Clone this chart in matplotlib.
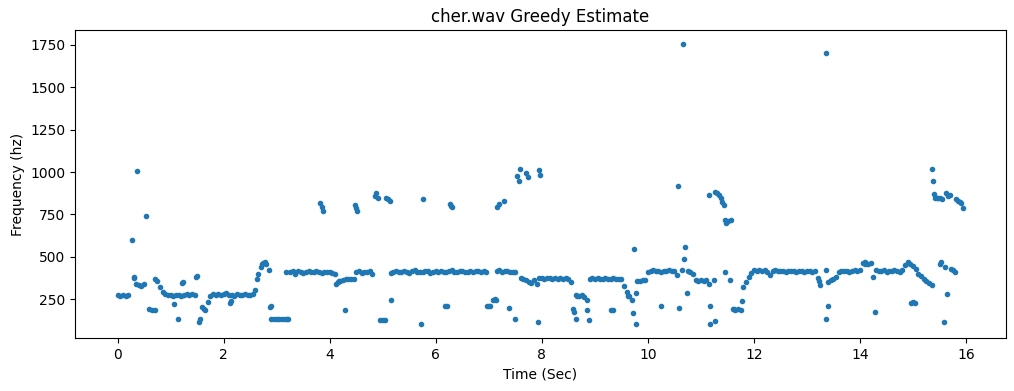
import numpy as np
import matplotlib
matplotlib.use('Agg')
from matplotlib import pyplot as plt

# pitch track, one value per frame (nan = no estimate on the main contour)
hop = 0.05
nan = np.nan
pitch = [
    274, 270, 276, 268, 274, nan, 380, 340, 332, 328, 340, nan, 190, 186, 372, 360, 320, 290, 280, 276,
    272, 270, 274, 276, 270, 276, 278, 274, 278, 272, 386, 135, 205, 185, 234, 270, 278, 272, 280, 276,
    278, 284, 272, 276, 270, 280, 276, 272, 278, 276, 274, 280, 303, 400, 440, 465, 455, 421, 136, 136,
    136, 136, 136, 136, 136, 411, 415, 400, 418, 411, 405, 413, 416, 410, 408, 415, 411, 406, 412, 409,
    411, 405, 400, 350, 360, 365, 368, 370, 372, 372, 410, 418, 405, 412, 408, 415, 400, nan, nan, 126,
    126, 126, nan, 405, 411, 415, 408, 412, 418, 410, 405, 416, 420, 411, 409, 412, 418, 414, 406, 411,
    415, 411, 418, 411, 408, 415, 420, 413, 410, 416, 418, 412, 409, 415, 411, 418, 414, 410, 415, 412,
    nan, nan, nan, 417, 420, 412, 415, 418, 411, 413, 410, nan, 375, 370, 363, 350, 345, 362, 340, 376,
    376, 372, 378, 374, 370, 376, 372, 374, 370, 378, 372, 352, nan, 274, 268, 274, 262, 245, 372, 375,
    370, 376, 372, 368, 375, 372, 370, 374, 372, 370, 372, 327, 290, 270, 245, nan, 360, 355, 365, 362,
    411, 417, 420, 415, 417, 411, 418, 416, 420, 414, 417, 395, nan, 420, nan, 415, 410, 400, 362, 358,
    364, 356, 362, 340, nan, 362, nan, nan, nan, 411, nan, 362, 190, 186, 190, 186, 320, 350, 380, 405,
    420, 418, 422, 415, 420, 412, 395, 415, 420, 418, 415, 418, 413, 416, 415, 418, 413, 415, 417, 413,
    415, 418, 413, 415, 375, 332, nan, 421, 350, 362, 372, 380, 410, 417, 415, 418, 413, 417, 420, 415,
    420, 465, 470, 460, 465, 382, 421, 415, 418, 420, 413, 418, 415, 420, 416, 413, 420, 450, 468, 460,
    448, 430, 400, 385, 370, 360, 345, 332, 870, 850, 845, 840, 440, 278, 865, 420, 410, 830, 817, 786,
]

# stray estimates off the main contour
stray_t = [0.28, 0.36, 0.53, 0.31, 0.70, 1.07, 1.13, 1.21, 1.23, 1.48, 1.53, 1.62,
           2.12, 2.14, 2.62, 2.72, 2.77, 2.88, 2.90, 3.18, 3.22, 3.82, 3.85, 3.88,
           4.12, 4.18, 4.29, 4.47, 4.49, 4.51, 4.85, 4.88, 4.91, 5.06, 5.09, 5.13,
           5.16, 5.73, 5.76, 6.17, 6.22, 6.26, 6.28, 6.31, 6.96, 7.00, 7.03, 7.08,
           7.12, 7.14, 7.16, 7.19, 7.28, 7.38, 7.50, 7.54, 7.56, 7.58, 7.70, 7.74,
           7.93, 7.95, 7.96, 8.58, 8.60, 8.64, 8.67, 8.86, 8.88, 9.30, 9.35, 9.62,
           9.71, 9.74, 9.77, 9.77, 10.24, 10.57, 10.58, 10.67, 10.69, 10.70, 10.74,
           11.15, 11.17, 11.18, 11.26, 11.27, 11.30, 11.34, 11.37, 11.40, 11.43, 11.45,
           11.48, 11.52, 11.56, 11.62, 11.78, 13.23, 13.36, 13.36, 13.39, 14.10, 14.28,
           14.97, 15.00, 15.04, 15.35, 15.37, 15.42, 15.48, 15.50, 15.53, 15.58, 15.62,
           15.66, 15.72, 15.81, 15.88]
stray_f = [598, 1004, 740, 375, 185, 220, 136, 346, 352, 380, 116, 190,
           225, 240, 372, 460, 470, 205, 212, 408, 136, 820, 795, 772,
           340, 355, 185, 805, 790, 772, 860, 878, 850, 845, 840, 830,
           248, 106, 839, 209, 209, 810, 800, 795, 209, 209, 212, 248,
           250, 248, 795, 810, 830, 201, 136, 977, 950, 1020, 995, 970,
           116, 1010, 982, 190, 174, 136, 270, 185, 128, 185, 185, 270,
           171, 549, 106, 284, 209, 917, 201, 1754, 490, 559, 284,
           864, 102, 209, 120, 884, 878, 864, 845, 825, 805, 716,
           700, 710, 716, 195, 238, 360, 1700, 136, 209, 455, 177,
           230, 232, 230, 1018, 947, 845, 850, 460, 470, 116, 875,
           860, 430, 840, 825]

times = np.arange(len(pitch)) * hop

fig = plt.figure(figsize=(10.14, 3.91), dpi=100)
ax = fig.add_axes([0.0743, 0.1348, 0.9175, 0.7877])
ax.plot(times, pitch, '.', color='C0')
ax.plot(stray_t, stray_f, '.', color='C0')
ax.set_title('cher.wav Greedy Estimate')
ax.set_xlabel('Time (Sec)')
ax.set_ylabel('Frequency (hz)')
fig.savefig('out.png', dpi=100)
